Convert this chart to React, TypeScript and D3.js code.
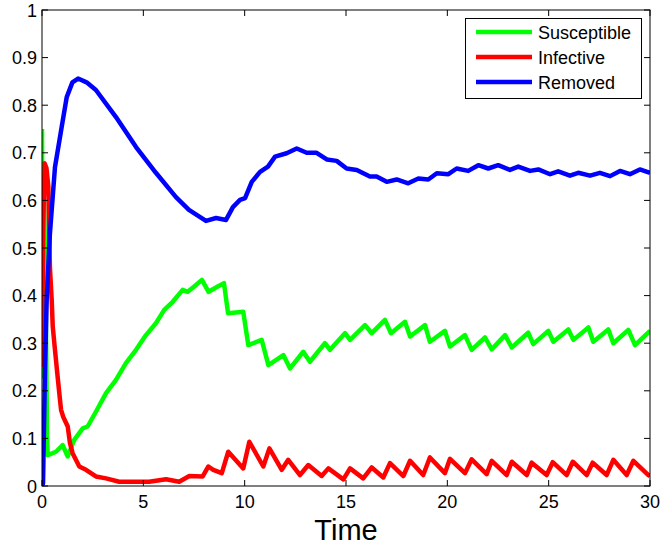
import React from "react";
import * as d3 from "d3";

const xTicks = [0, 5, 10, 15, 20, 25, 30];
const yTicks = [0, 0.1, 0.2, 0.3, 0.4, 0.5, 0.6, 0.7, 0.8, 0.9, 1];
const seriesNames = ["Susceptible", "Infective", "Removed"];
const seriesColors = ["#00ff00", "#ff0000", "#0000ff"];

const sT = [0, 0.03, 0.1, 0.18, 0.25, 0.28, 0.69, 1.02, 1.27, 1.59, 2.01, 2.25, 2.66, 3.16, 3.65, 4.14, 4.64, 5.13, 5.62, 6.03, 6.45, 6.94, 7.19, 7.51, 7.89, 8.22, 8.67, 8.98, 9.18, 9.93, 10.18, 10.84, 11.17, 11.91, 12.24, 12.89, 13.22, 13.96, 14.21, 14.95, 15.2, 15.94, 16.27, 16.92, 17.22, 17.91, 18.16, 18.9, 19.14, 19.88, 20.13, 20.87, 21.2, 21.86, 22.19, 22.85, 23.18, 23.99, 24.24, 24.98, 25.23, 25.97, 26.22, 26.96, 27.2, 27.94, 28.19, 28.93, 29.26, 30];
const sV = [0.75, 0.23, 0.6, 0.4, 0.1, 0.065, 0.072, 0.086, 0.062, 0.097, 0.121, 0.125, 0.156, 0.195, 0.223, 0.258, 0.286, 0.317, 0.342, 0.37, 0.387, 0.412, 0.408, 0.419, 0.433, 0.408, 0.419, 0.426, 0.363, 0.366, 0.296, 0.307, 0.254, 0.275, 0.247, 0.282, 0.261, 0.3, 0.286, 0.321, 0.307, 0.338, 0.321, 0.349, 0.321, 0.345, 0.314, 0.338, 0.303, 0.326, 0.293, 0.317, 0.286, 0.312, 0.287, 0.317, 0.291, 0.322, 0.298, 0.326, 0.303, 0.329, 0.307, 0.333, 0.303, 0.329, 0.3, 0.328, 0.296, 0.326];

const iT = [0, 0.06, 0.13, 0.22, 0.31, 0.39, 0.48, 0.53, 0.64, 0.77, 0.89, 0.94, 1.05, 1.27, 1.38, 1.51, 1.84, 2.17, 2.66, 3.16, 3.81, 4.64, 5.29, 6.12, 6.77, 7.27, 7.93, 8.21, 8.45, 8.87, 9.19, 9.93, 10.23, 10.92, 11.22, 11.83, 12.15, 12.73, 13.14, 13.8, 14.13, 14.87, 15.2, 15.85, 16.27, 16.84, 17.17, 17.83, 18.16, 18.81, 19.14, 19.88, 20.13, 20.87, 21.2, 21.94, 22.19, 22.93, 23.18, 23.92, 24.16, 24.9, 25.2, 25.89, 26.19, 26.88, 27.17, 27.86, 28.19, 28.85, 29.18, 29.92, 30];
const iV = [0.25, 0.55, 0.678, 0.668, 0.63, 0.46, 0.39, 0.335, 0.286, 0.23, 0.18, 0.16, 0.145, 0.125, 0.09, 0.069, 0.041, 0.034, 0.02, 0.016, 0.009, 0.009, 0.009, 0.014, 0.009, 0.021, 0.02, 0.041, 0.034, 0.027, 0.072, 0.037, 0.093, 0.041, 0.079, 0.034, 0.055, 0.023, 0.044, 0.021, 0.037, 0.014, 0.037, 0.016, 0.039, 0.018, 0.048, 0.021, 0.053, 0.023, 0.06, 0.027, 0.057, 0.027, 0.056, 0.025, 0.053, 0.023, 0.051, 0.023, 0.049, 0.023, 0.05, 0.023, 0.051, 0.023, 0.049, 0.023, 0.055, 0.023, 0.053, 0.023, 0.021];

const rT = [0, 0.05, 0.15, 0.23, 0.39, 0.64, 0.97, 1.22, 1.5, 1.78, 2.2, 2.66, 3.65, 4.64, 5.62, 6.61, 7.25, 8.09, 8.59, 9.08, 9.42, 9.77, 10.02, 10.35, 10.76, 11.15, 11.5, 12.07, 12.57, 13.06, 13.55, 14.05, 14.54, 15.03, 15.53, 16.18, 16.51, 17.01, 17.5, 18.07, 18.57, 19.06, 19.48, 20.05, 20.46, 21.03, 21.53, 22.02, 22.51, 23.09, 23.5, 24.08, 24.49, 25.07, 25.47, 26.05, 26.46, 27.04, 27.53, 28.03, 28.52, 29.01, 29.5, 30];
const rV = [0, 0.006, 0.25, 0.39, 0.53, 0.67, 0.754, 0.817, 0.848, 0.856, 0.848, 0.832, 0.775, 0.712, 0.658, 0.607, 0.58, 0.557, 0.563, 0.559, 0.586, 0.601, 0.605, 0.639, 0.66, 0.671, 0.692, 0.699, 0.709, 0.7, 0.7, 0.686, 0.683, 0.667, 0.664, 0.65, 0.65, 0.639, 0.644, 0.636, 0.646, 0.644, 0.657, 0.655, 0.667, 0.662, 0.674, 0.667, 0.674, 0.664, 0.671, 0.662, 0.665, 0.655, 0.661, 0.652, 0.658, 0.652, 0.658, 0.651, 0.662, 0.655, 0.665, 0.658];

const series = [
  { t: sT, v: sV },
  { t: iT, v: iV },
  { t: rT, v: rV },
];

const W = 660;
const H = 548;
const left = 42;
const right = 650;
const top = 10;
const bottom = 486;
const FONT = "'Liberation Sans', Arial, Helvetica, sans-serif";

export default function App() {
  const x = d3.scaleLinear().domain([0, 30]).range([left, right]);
  const y = d3.scaleLinear().domain([0, 1]).range([bottom, top]);
  const line = d3
    .line<[number, number]>()
    .x((d) => x(d[0]))
    .y((d) => y(d[1]));
  const tickLen = 6;

  return (
    <svg
      width={W}
      height={H}
      style={{ position: "absolute", left: 0, top: 0, background: "#fff" }}
      fontFamily={FONT}
    >
      <rect x={0} y={0} width={W} height={H} fill="#fff" />
      <defs>
        <clipPath id="plotclip">
          <rect x={left} y={top - 3} width={right - left} height={bottom - top + 3} />
        </clipPath>
      </defs>
      {series.map((s, i) => (
        <path
          key={seriesNames[i]}
          d={line(s.t.map((t, j) => [t, s.v[j]] as [number, number])) || ""}
          fill="none"
          stroke={seriesColors[i]}
          strokeWidth={4.5}
          strokeLinejoin="round"
          strokeLinecap="butt"
          clipPath="url(#plotclip)"
        />
      ))}
      {/* box */}
      <rect
        x={left}
        y={top}
        width={right - left}
        height={bottom - top}
        fill="none"
        stroke="#000"
        strokeWidth={1}
      />
      {/* x ticks */}
      {xTicks.map((t) => (
        <g key={"x" + t}>
          <line x1={x(t)} x2={x(t)} y1={bottom} y2={bottom - tickLen} stroke="#000" />
          <line x1={x(t)} x2={x(t)} y1={top} y2={top + tickLen} stroke="#000" />
          <text
            x={x(t)}
            y={508}
            fontSize={18}
            textAnchor="middle"
            fill="#000"
          >
            {t}
          </text>
        </g>
      ))}
      {/* y ticks */}
      {yTicks.map((t) => (
        <g key={"y" + t}>
          <line x1={left} x2={left + tickLen} y1={y(t)} y2={y(t)} stroke="#000" />
          <line x1={right} x2={right - tickLen} y1={y(t)} y2={y(t)} stroke="#000" />
          <text
            x={37}
            y={y(t) + 6.5}
            fontSize={18}
            textAnchor="end"
            fill="#000"
          >
            {String(t)}
          </text>
        </g>
      ))}
      <text x={(left + right) / 2} y={540} fontSize={29} textAnchor="middle" fill="#000">
        Time
      </text>
      {/* legend */}
      <rect x={465.5} y={18.5} width={176} height={80} fill="#fff" stroke="#000" strokeWidth={1} />
      {seriesNames.map((n, i) => {
        const yy = 32 + i * 25;
        return (
          <g key={"leg" + n}>
            <line x1={476} x2={532} y1={yy} y2={yy} stroke={seriesColors[i]} strokeWidth={4.5} />
            <text x={538} y={yy + 6.5} fontSize={18} fill="#000">
              {n}
            </text>
          </g>
        );
      })}
    </svg>
  );
}
